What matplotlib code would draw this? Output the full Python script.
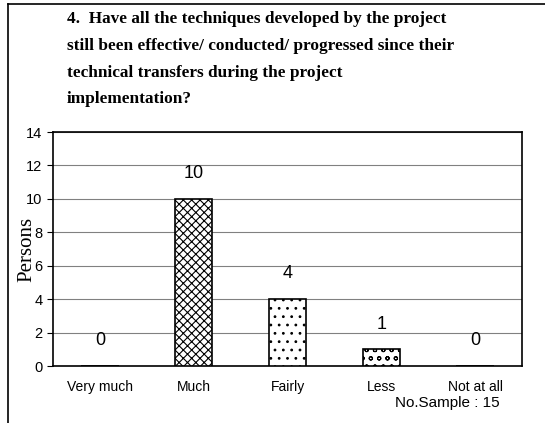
import matplotlib.pyplot as plt
from matplotlib.lines import Line2D

# -------------------------------
# Data
# -------------------------------
categories = ["Very much", "Much", "Fairly", "Less", "Not at all"]
persons = [0, 10, 4, 1, 0]
hatches = ["", "xxxx", "..", "oo", ""]
n_sample = 15

title = ("4.  Have all the techniques developed by the project\n"
         "still been effective/ conducted/ progressed since their\n"
         "technical transfers during the project\n"
         "implementation?")

# -------------------------------
# Figure
# -------------------------------
plt.rcParams["hatch.linewidth"] = 0.8

W, H = 545, 423
fig = plt.figure(figsize=(W / 100, H / 100), dpi=100)
ax = fig.add_axes([53 / W, 1 - 366 / H, (522 - 53) / W, (366 - 132) / H])

x = range(len(categories))
bars = ax.bar(x, persons, width=0.4, color="white", edgecolor="black",
              linewidth=1.2, zorder=3)
for b, h in zip(bars, hatches):
    b.set_hatch(h)

for xi, v in zip(x, persons):
    ax.text(xi, v + 1.0, str(v), ha="center", va="bottom",
            fontsize=13, family="Liberation Sans")

ax.set_xlim(-0.5, len(categories) - 0.5)
ax.set_ylim(0, 14)
ax.set_yticks(range(0, 15, 2))
ax.set_xticks(list(x))
ax.set_xticklabels(categories, fontsize=10, family="Liberation Sans")
ax.tick_params(axis="x", length=0, pad=10)
ax.tick_params(axis="y", labelsize=10.5, length=4, width=0.8)
for lab in ax.get_yticklabels():
    lab.set_family("Liberation Sans")
ax.yaxis.grid(True, color="#808080", linewidth=0.8, zorder=0)
for s in ax.spines.values():
    s.set_linewidth(1.2)

ax.set_ylabel("Persons", family="Liberation Serif", fontsize=15, labelpad=-7)

fig.text(67 / W, 1 - 11 / H, title, ha="left", va="top", fontsize=12.4,
         family="Liberation Serif", fontweight="bold", linespacing=1.9)
fig.text(500 / W, 1 - 403 / H, f"No.Sample : {n_sample}", ha="right",
         va="center", fontsize=11, family="Liberation Sans")

# outer frame (top and left edges)
fig.add_artist(Line2D([8 / W, 1], [1 - 4 / H, 1 - 4 / H], color="black", lw=1.2))
fig.add_artist(Line2D([8 / W, 8 / W], [0, 1 - 4 / H], color="black", lw=1.2))

fig.savefig("out.png", dpi=100)
